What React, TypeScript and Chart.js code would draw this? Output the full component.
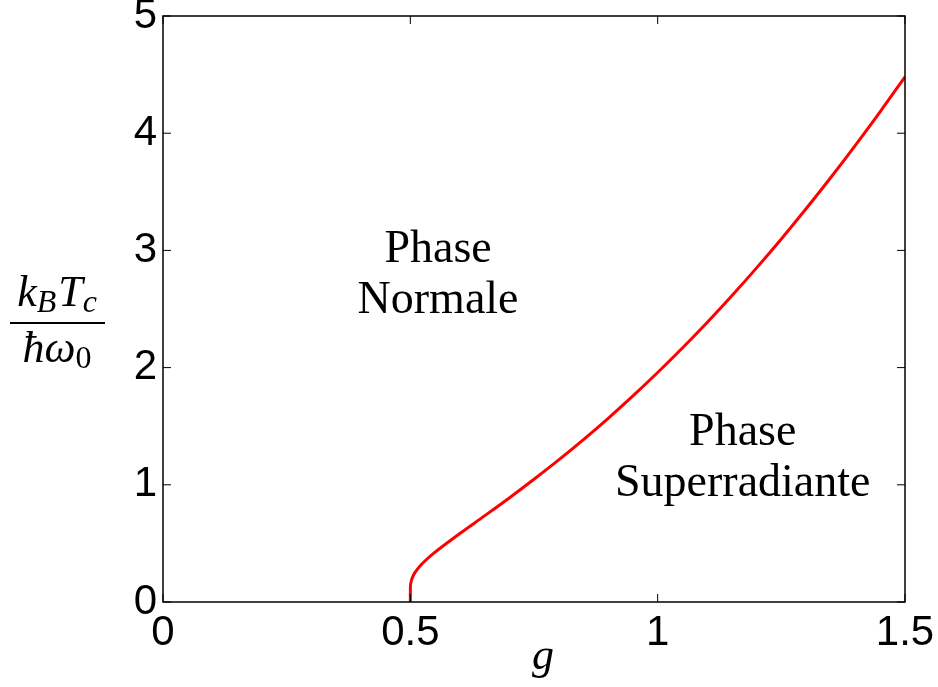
import React, { useEffect, useRef } from "react";
import { Chart, registerables } from "chart.js";
Chart.register(...registerables);

// Coupling g (x) and critical temperature k_B T_c / ħω0 (y)
const gValues = [0.5, 0.5001, 0.501, 0.502, 0.505, 0.51, 0.52, 0.53, 0.55, 0.6, 0.65, 0.7, 0.75, 0.8, 0.85, 0.9, 0.95, 1.0, 1.05, 1.1, 1.15, 1.2, 1.25, 1.3, 1.35, 1.4, 1.45, 1.5];
const tcValues = [0, 0.117, 0.161, 0.181, 0.217, 0.255, 0.309, 0.352, 0.425, 0.584, 0.735, 0.888, 1.047, 1.212, 1.385, 1.567, 1.758, 1.958, 2.167, 2.385, 2.613, 2.851, 3.098, 3.355, 3.622, 3.899, 4.185, 4.481];
const xTicks = [0, 0.5, 1, 1.5];
const yTicks = [0, 1, 2, 3, 4, 5];
const regionLabels = [
  { lines: ["Phase", "Normale"], g: 0.556, t: 2.9 },
  { lines: ["Phase", "Superradiante"], g: 1.172, t: 1.34 },
];

const W = 938;
const H = 687;
const TICK_FONT = "Liberation Sans, Arial, Helvetica, sans-serif";
const SERIF = "'Liberation Serif', 'Times New Roman', serif";

type Run = { text: string; size: number; italic: boolean; dy: number; gap?: number };

function drawRuns(ctx: CanvasRenderingContext2D, runs: Run[], cx: number, baseline: number) {
  let total = 0;
  for (const r of runs) {
    ctx.font = `${r.italic ? "italic " : ""}${r.size}px ${SERIF}`;
    total += ctx.measureText(r.text).width + (r.gap || 0);
  }
  let x = cx - total / 2;
  ctx.textAlign = "left";
  ctx.textBaseline = "alphabetic";
  for (const r of runs) {
    ctx.font = `${r.italic ? "italic " : ""}${r.size}px ${SERIF}`;
    ctx.fillText(r.text, x, baseline + r.dy);
    x += ctx.measureText(r.text).width + (r.gap || 0);
  }
  return total;
}

const decorPlugin = {
  id: "decor",
  afterDatasetsDraw(chart: any) {
    const { ctx, chartArea: a, scales } = chart;
    const xs = scales.x;
    const ys = scales.y;
    ctx.save();
    // box
    ctx.strokeStyle = "#000";
    ctx.lineWidth = 1.5;
    ctx.strokeRect(a.left, a.top, a.right - a.left, a.bottom - a.top);
    // inward ticks on all sides
    const tl = 8;
    ctx.lineWidth = 1;
    ctx.beginPath();
    for (const v of xTicks) {
      const px = xs.getPixelForValue(v);
      ctx.moveTo(px, a.bottom);
      ctx.lineTo(px, a.bottom - tl);
      ctx.moveTo(px, a.top);
      ctx.lineTo(px, a.top + tl);
    }
    for (const v of yTicks) {
      const py = ys.getPixelForValue(v);
      ctx.moveTo(a.left, py);
      ctx.lineTo(a.left + tl, py);
      ctx.moveTo(a.right, py);
      ctx.lineTo(a.right - tl, py);
    }
    ctx.stroke();

    // region annotations
    ctx.fillStyle = "#000";
    ctx.textAlign = "center";
    ctx.textBaseline = "alphabetic";
    ctx.font = `46px ${SERIF}`;
    for (const r of regionLabels) {
      const px = xs.getPixelForValue(r.g);
      const py = ys.getPixelForValue(r.t);
      r.lines.forEach((ln, i) => ctx.fillText(ln, px, py + i * 51));
    }

    // x axis title
    ctx.font = `italic 44px ${SERIF}`;
    ctx.textAlign = "center";
    ctx.fillText("g", (a.left + a.right) / 2 + 9, 669);

    // y axis title: fraction
    const cx = 57;
    drawRuns(
      ctx,
      [
        { text: "k", size: 44, italic: true, dy: 0 },
        { text: "B", size: 32, italic: true, dy: 6, gap: 2 },
        { text: "T", size: 44, italic: true, dy: 0 },
        { text: "c", size: 32, italic: true, dy: 6 },
      ],
      cx,
      306
    );
    ctx.lineWidth = 2;
    ctx.beginPath();
    ctx.moveTo(10, 323);
    ctx.lineTo(105, 323);
    ctx.stroke();
    drawRuns(
      ctx,
      [
        { text: "ħω", size: 44, italic: true, dy: 0 },
        { text: "0", size: 32, italic: false, dy: 6 },
      ],
      cx,
      362
    );
    ctx.restore();
  },
};

export default function App() {
  const ref = useRef<HTMLCanvasElement | null>(null);
  useEffect(() => {
    document.body.style.margin = "0";
    const canvas = ref.current;
    if (!canvas) return;
    const data = gValues.map((g, i) => ({ x: g, y: tcValues[i] }));
    const chart = new Chart(canvas, {
      type: "line",
      data: {
        datasets: [
          {
            data,
            borderColor: "#ff0000",
            borderWidth: 3,
            pointRadius: 0,
            cubicInterpolationMode: "monotone",
            fill: false,
          },
        ],
      },
      options: {
        animation: false,
        responsive: false,
        devicePixelRatio: 1,
        layout: { padding: { top: 16, right: 33, left: 0, bottom: 0 } },
        plugins: { legend: { display: false }, tooltip: { enabled: false } },
        scales: {
          x: {
            type: "linear",
            min: 0,
            max: 1.5,
            afterBuildTicks: (s: any) => {
              s.ticks = xTicks.map((v) => ({ value: v }));
            },
            afterFit: (s: any) => {
              s.height = 85;
              s.paddingLeft = 0;
              s.paddingRight = 0;
            },
            grid: { display: false, drawTicks: false },
            border: { display: false },
            ticks: {
              color: "#000",
              padding: 6,
              maxRotation: 0,
              font: { family: TICK_FONT, size: 42 },
              callback: (v: any) => String(v),
            },
          },
          y: {
            type: "linear",
            min: 0,
            max: 5,
            afterBuildTicks: (s: any) => {
              s.ticks = yTicks.map((v) => ({ value: v }));
            },
            afterFit: (s: any) => {
              s.width = 163;
              s.paddingTop = 0;
              s.paddingBottom = 0;
            },
            grid: { display: false, drawTicks: false },
            border: { display: false },
            ticks: {
              color: "#000",
              padding: 6,
              font: { family: TICK_FONT, size: 42 },
              callback: (v: any) => String(v),
            },
          },
        },
      },
      plugins: [decorPlugin],
    } as any);
    return () => chart.destroy();
  }, []);
  return (
    <div style={{ width: W, height: H, background: "#fff" }}>
      <canvas ref={ref} width={W} height={H} style={{ display: "block" }} />
    </div>
  );
}
